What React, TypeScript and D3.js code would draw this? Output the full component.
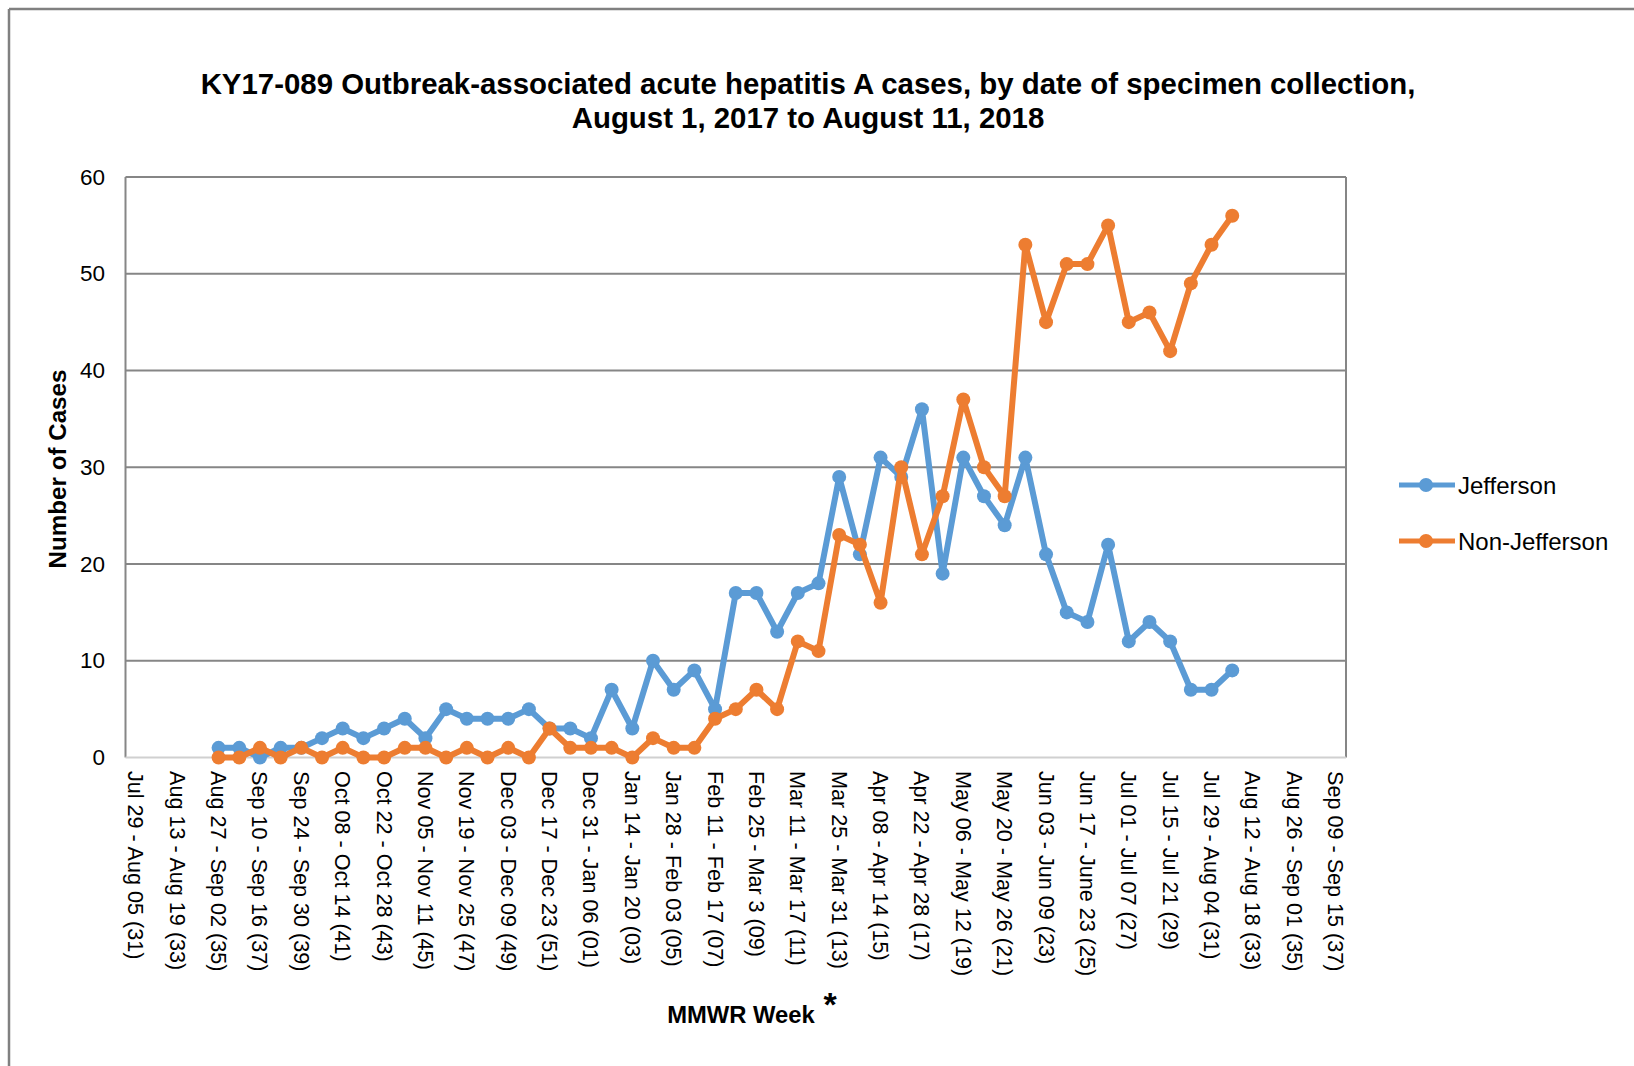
import React from 'react';
import * as d3 from 'd3';

// MMWR week tick labels (one every two weeks)
const tickLabels = [
  'Jul 29 - Aug 05 (31)', 'Aug 13 - Aug 19 (33)', 'Aug 27 - Sep 02 (35)', 'Sep 10 - Sep 16 (37)',
  'Sep 24 - Sep 30 (39)', 'Oct 08 - Oct 14 (41)', 'Oct 22 - Oct 28 (43)', 'Nov 05 - Nov 11 (45)',
  'Nov 19 - Nov 25 (47)', 'Dec 03 - Dec 09 (49)', 'Dec 17 - Dec 23 (51)', 'Dec 31 - Jan 06 (01)',
  'Jan 14 - Jan 20 (03)', 'Jan 28 - Feb 03 (05)', 'Feb 11 - Feb 17 (07)', 'Feb 25 - Mar 3 (09)',
  'Mar 11 - Mar 17 (11)', 'Mar 25 - Mar 31 (13)', 'Apr 08 - Apr 14 (15)', 'Apr 22 - Apr 28 (17)',
  'May 06 - May 12 (19)', 'May 20 - May 26 (21)', 'Jun 03 - Jun 09 (23)', 'Jun 17 - June 23 (25)',
  'Jul 01 - Jul 07 (27)', 'Jul 15 - Jul 21 (29)', 'Jul 29 - Aug 04 (31)', 'Aug 12 - Aug 18 (33)',
  'Aug 26 - Sep 01 (35)', 'Sep 09 - Sep 15 (37)',
];

// 59 weekly categories, week index 0 = Jul 29 - Aug 04
const weeks = d3.range(59);

const jefferson: (number | null)[] = [
  null, null, null, null,
  1, 1, 0, 1, 1, 2, 3, 2, 3, 4,
  2, 5, 4, 4, 4, 5, 3, 3, 2, 7,
  3, 10, 7, 9, 5, 17, 17, 13, 17, 18,
  29, 21, 31, 29, 36, 19, 31, 27, 24, 31,
  21, 15, 14, 22, 12, 14, 12, 7, 7, 9,
  null, null, null, null, null,
];

const nonJefferson: (number | null)[] = [
  null, null, null, null,
  0, 0, 1, 0, 1, 0, 1, 0, 0, 1,
  1, 0, 1, 0, 1, 0, 3, 1, 1, 1,
  0, 2, 1, 1, 4, 5, 7, 5, 12, 11,
  23, 22, 16, 30, 21, 27, 37, 30, 27, 53,
  45, 51, 51, 55, 45, 46, 42, 49, 53, 56,
  null, null, null, null, null,
];

const yTicks = [0, 10, 20, 30, 40, 50, 60];

const series = [
  { name: 'Jefferson', values: jefferson, color: '#5B9BD5' },
  { name: 'Non-Jefferson', values: nonJefferson, color: '#ED7D31' },
];

const font = 'Arial, "Liberation Sans", sans-serif';

export default function App() {
  const W = 1634;
  const H = 1066;
  const plot = { left: 125.5, right: 1346, top: 177, bottom: 757.5 };

  const x = d3.scaleBand<number>().domain(weeks).range([plot.left, plot.right]);
  const y = d3.scaleLinear().domain([0, 60]).range([plot.bottom, plot.top]);
  const cx = (i: number) => (x(i) || 0) + x.bandwidth() / 2;

  const line = d3
    .line<number | null>()
    .defined(d => d != null)
    .x((_, i) => cx(i))
    .y(d => y(d as number));

  return (
    <svg width={W} height={H} style={{ position: 'absolute', left: 0, top: 0, background: '#fff' }}>
      {/* outer frame */}
      <line x1={9} y1={9} x2={W} y2={9} stroke="#808080" strokeWidth={2.5} />
      <line x1={9} y1={9} x2={9} y2={H} stroke="#808080" strokeWidth={2.5} />

      {/* title */}
      <text x={808} y={94} textAnchor="middle" fontFamily={font} fontWeight="bold" fontSize={29.4}>
        KY17-089 Outbreak-associated acute hepatitis A cases, by date of specimen collection,
      </text>
      <text x={808} y={128} textAnchor="middle" fontFamily={font} fontWeight="bold" fontSize={29.4}>
        August 1, 2017 to August 11, 2018
      </text>

      {/* gridlines and y ticks */}
      {yTicks.map(t => (
        <g key={t}>
          {t > 0 && (
            <line x1={plot.left} x2={plot.right} y1={y(t)} y2={y(t)} stroke="#868686" strokeWidth={2} />
          )}
          <text x={105} y={y(t)} textAnchor="end" dominantBaseline="central" fontFamily={font} fontSize={22.5}>
            {t}
          </text>
        </g>
      ))}
      <line x1={plot.left} x2={plot.left} y1={plot.top} y2={plot.bottom} stroke="#868686" strokeWidth={2} />
      <line x1={plot.right} x2={plot.right} y1={plot.top} y2={plot.bottom} stroke="#868686" strokeWidth={2} />
      <line x1={plot.left} x2={plot.right} y1={plot.bottom} y2={plot.bottom} stroke="#d0d0d0" strokeWidth={2} />

      {/* x tick labels */}
      {weeks.filter(i => i % 2 === 0).map((i, k) => (
        <text
          key={i}
          transform={`translate(${cx(i)},771) rotate(90)`}
          textAnchor="start"
          dominantBaseline="central"
          fontFamily={font}
          fontSize={21.6}
        >
          {tickLabels[k]}
        </text>
      ))}

      {/* axis titles */}
      <text
        transform="translate(57,469) rotate(-90)"
        textAnchor="middle"
        dominantBaseline="central"
        fontFamily={font}
        fontWeight="bold"
        fontSize={24.2}
      >
        Number of Cases
      </text>
      <text x={741} y={1023} textAnchor="middle" fontFamily={font} fontWeight="bold" fontSize={23.8}>
        MMWR Week
      </text>
      <text x={830} y={1016} textAnchor="middle" fontFamily={font} fontWeight="bold" fontSize={34}>
        *
      </text>

      {/* series */}
      {series.map(s => (
        <g key={s.name}>
          <path d={line(s.values) || ''} fill="none" stroke={s.color} strokeWidth={6} strokeLinejoin="round" />
          {s.values.map((v, i) =>
            v == null ? null : <circle key={i} cx={cx(i)} cy={y(v)} r={7} fill={s.color} />
          )}
        </g>
      ))}

      {/* legend */}
      {series.map((s, k) => {
        const ly = 485 + k * 56;
        return (
          <g key={s.name}>
            <line x1={1399} x2={1455} y1={ly} y2={ly} stroke={s.color} strokeWidth={5} />
            <circle cx={1426} cy={ly} r={7} fill={s.color} />
            <text x={1458} y={ly} dominantBaseline="central" fontFamily={font} fontSize={24}>
              {s.name}
            </text>
          </g>
        );
      })}
    </svg>
  );
}
